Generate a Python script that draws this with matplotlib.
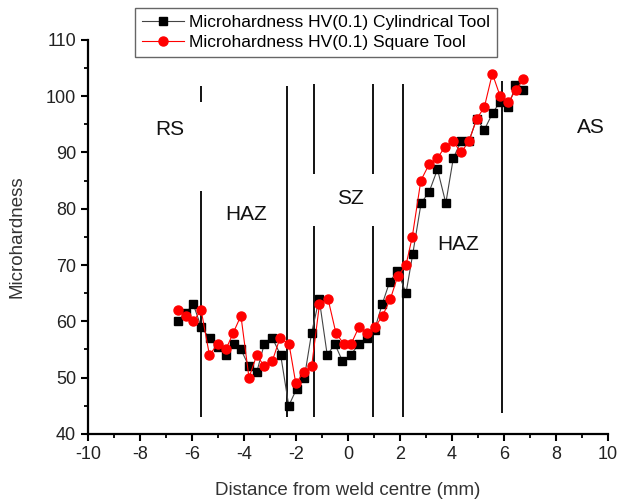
import matplotlib
matplotlib.use('Agg')
import matplotlib.pyplot as plt
from matplotlib.ticker import MultipleLocator

plt.rcParams['font.family'] = ['Liberation Sans', 'DejaVu Sans']
plt.rcParams['axes.unicode_minus'] = False  # 用普通减号

# 圆柱工具 数据
x_cyl = [-6.55, -6.25, -5.95, -5.65, -5.32, -5.02, -4.71, -4.38, -4.12, -3.81,
         -3.51, -3.22, -2.91, -2.59, -2.28, -1.98, -1.68, -1.40, -1.11, -0.80,
         -0.51, -0.22, 0.10, 0.42, 0.72, 1.02, 1.31, 1.60, 1.90, 2.23,
         2.49, 2.81, 3.12, 3.44, 3.76, 4.05, 4.35, 4.65, 4.95, 5.24,
         5.56, 5.85, 6.17, 6.44, 6.74]
hv_cyl = [60, 61.5, 63, 59, 57, 55.5, 54, 56, 55, 52,
          51, 56, 57, 54, 45, 48, 50, 58, 64, 54,
          56, 53, 54, 56, 57, 58.5, 63, 67, 69, 65,
          72, 81, 83, 87, 81, 89, 92, 92, 96, 94,
          97, 99, 98, 102, 101]

# 方形工具 数据
x_sq = [-6.55, -6.24, -5.95, -5.65, -5.33, -5.01, -4.70, -4.41, -4.12, -3.81,
        -3.51, -3.22, -2.91, -2.62, -2.27, -2.01, -1.69, -1.40, -1.10, -0.77,
        -0.47, -0.17, 0.12, 0.42, 0.73, 1.04, 1.33, 1.63, 1.91, 2.23,
        2.47, 2.80, 3.13, 3.44, 3.73, 4.03, 4.35, 4.65, 4.95, 5.24,
        5.55, 5.85, 6.17, 6.45, 6.74]
hv_sq = [62, 61, 60, 62, 54, 56, 55, 58, 61, 50,
         54, 52, 53, 57, 56, 49, 51, 52, 63, 64,
         58, 56, 56, 59, 58, 59, 61, 64, 68, 70,
         75, 85, 88, 89, 91, 92, 90, 92, 96, 98,
         104, 100, 99, 101, 103]

# 区域分界线 (x, 线段的 y 范围)
bound_x = [-5.65, -5.65, -2.35, -1.3, -1.3, 0.95, 0.95, 2.1, 5.93]
bound_lo = [99.0, 43, 43, 86.2, 43, 86.2, 43, 43, 43.7]
bound_hi = [101.8, 83.2, 101.8, 102.2, 77, 102.2, 77, 102.2, 102.7]

# 区域标签
zone_names = ['RS', 'HAZ', 'SZ', 'HAZ', 'AS']
zone_x = [-6.85, -3.92, 0.08, 4.23, 9.35]
zone_y = [94.0, 79.0, 81.8, 73.6, 94.4]

fig = plt.figure(figsize=(6.23, 5.04), dpi=100)
ax = fig.add_axes([0.1413, 0.139, 0.8347, 0.782])

ax.plot(x_cyl, hv_cyl, color='#444444', lw=0.8, marker='s', ms=6,
        mfc='black', mec='black', label='Microhardness HV(0.1) Cylindrical Tool', zorder=3)
ax.plot(x_sq, hv_sq, color='red', lw=0.8, marker='o', ms=6.5,
        mfc='red', mec='red', label='Microhardness HV(0.1) Square Tool', zorder=4)

ax.vlines(bound_x, bound_lo, bound_hi, colors='black', lw=1.3, zorder=2)

for name, zx, zy in zip(zone_names, zone_x, zone_y):
    ax.text(zx, zy, name, ha='center', va='center', fontsize=15, color='#111111')

ax.set_xlim(-10, 10)
ax.set_ylim(40, 110)
ax.xaxis.set_major_locator(MultipleLocator(2))
ax.xaxis.set_minor_locator(MultipleLocator(1))
ax.yaxis.set_major_locator(MultipleLocator(10))
ax.yaxis.set_minor_locator(MultipleLocator(5))

ax.spines['top'].set_visible(False)
ax.spines['right'].set_visible(False)
ax.spines['left'].set_linewidth(1.6)
ax.spines['bottom'].set_linewidth(1.6)
ax.tick_params(which='major', direction='out', length=5, width=1.5,
               labelsize=13, labelcolor='#222222')
ax.tick_params(which='minor', direction='out', length=3, width=1.3)

ax.set_xlabel('Distance from weld centre (mm)', fontsize=13.5, color='#333333', labelpad=14)
ax.set_ylabel('Microhardness', fontsize=13.5, color='#333333', labelpad=15)

fig.legend(loc='upper left', bbox_to_anchor=(0.217, 0.984), fontsize=12.5,
           frameon=True, fancybox=False, edgecolor='#666666', framealpha=1,
           borderaxespad=0, handlelength=2.4, borderpad=0.4, labelspacing=0.25,
           handletextpad=0.3)

plt.savefig('out.png', dpi=100)
